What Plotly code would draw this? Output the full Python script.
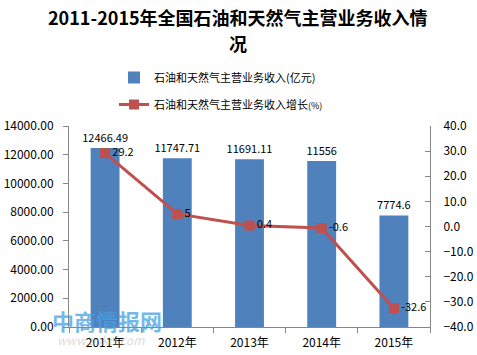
import plotly.graph_objects as go

years = ["2011年", "2012年", "2013年", "2014年", "2015年"]
revenue = [12466.49, 11747.71, 11691.11, 11556, 7774.6]
revenue_labels = ["12466.49", "11747.71", "11691.11", "11556", "7774.6"]
growth = [29.2, 5, 0.4, -0.6, -32.6]
growth_labels = ["29.2", "5", "0.4", "-0.6", "-32.6"]

title_line1 = "2011-2015年全国石油和天然气主营业务收入情"
title_line2 = "况"
name_bar = "石油和天然气主营业务收入(亿元)"
name_line = "石油和天然气主营业务收入增长<span style='font-size:9px'>(%)</span>"
watermark = "中商情报网"
watermark_url = "www.askci.com"

font_family = "Noto Sans CJK SC, DejaVu Sans, sans-serif"

W, H = 477, 355
L, R, T, B = 69, 47, 126, 28
PW = W - L - R
PH = H - T - B


def px(x):  # page pixel x -> paper x
    return (x - L) / PW


def py(y):  # page pixel y -> paper y
    return (H - B - y) / PH


fig = go.Figure()
fig.add_trace(go.Bar(
    x=years, y=revenue, name=name_bar, legendgroup="a",
    marker=dict(color="#4F81BD", line=dict(width=0)),
    width=0.40,
    text=revenue_labels, textposition="outside",
    constraintext="none",
    textfont=dict(size=11, color="#000000"),
    cliponaxis=False,
))
fig.add_trace(go.Scatter(
    x=years, y=growth, name=name_line, yaxis="y2", legendgroup="b",
    mode="lines+markers+text",
    line=dict(color="#C0504D", width=3),
    marker=dict(symbol="square", size=10, color="#C0504D"),
    text=growth_labels, textposition="middle right",
    textfont=dict(size=11, color="#000000"),
    cliponaxis=False,
))

axis_common = dict(showline=True, linecolor="#868686",
                   ticklen=5, tickcolor="#868686", showgrid=False,
                   zeroline=False, automargin=False)

fig.update_layout(
    width=W, height=H,
    margin=dict(l=L, r=R, t=T, b=B, autoexpand=False),
    paper_bgcolor="white", plot_bgcolor="white",
    font=dict(family=font_family, size=11, color="#000000"),
    annotations=[
        dict(text="<b>" + title_line1 + "</b>", xref="paper", yref="paper",
             x=px(238), y=py(17), xanchor="center",
             yanchor="middle", showarrow=False,
             font=dict(size=18, color="#000000")),
        dict(text="<b>" + title_line2 + "</b>", xref="paper", yref="paper",
             x=px(238), y=py(43), xanchor="center",
             yanchor="middle", showarrow=False,
             font=dict(size=18, color="#000000")),
        dict(text="<b>" + watermark + "</b>", xref="paper", yref="paper",
             x=px(50), y=py(320), xanchor="left", yanchor="middle",
             showarrow=False,
             font=dict(size=22, color="rgba(70,160,225,0.75)")),
        dict(text="<i>" + watermark_url + "</i>", xref="paper", yref="paper",
             x=px(55), y=py(339), xanchor="left", yanchor="middle",
             showarrow=False,
             font=dict(size=12, color="rgba(170,170,170,0.45)")),
    ],
    showlegend=True,
    legend=dict(x=px(114), y=py(63), xanchor="left", yanchor="top",
                bgcolor="rgba(0,0,0,0)", font=dict(size=11),
                tracegroupgap=8, itemwidth=30),
    bargap=0.60,
    hovermode=False,
    xaxis=dict(axis_common, ticks="outside", tickson="boundaries",
               tickfont=dict(size=12), ticklabelstandoff=5),
    yaxis=dict(axis_common, ticks="outside", range=[0, 14000], dtick=2000,
               tickformat=".2f", tickfont=dict(size=12),
               ticklabelstandoff=7),
    yaxis2=dict(axis_common, ticks="inside", range=[-40, 40], dtick=10,
                tickformat=".1f", overlaying="y", side="right",
                tickfont=dict(size=12), ticklabelstandoff=10),
)

fig.write_html("out.html", config={"displayModeBar": False},
               post_script="document.body.style.margin='0px';")
